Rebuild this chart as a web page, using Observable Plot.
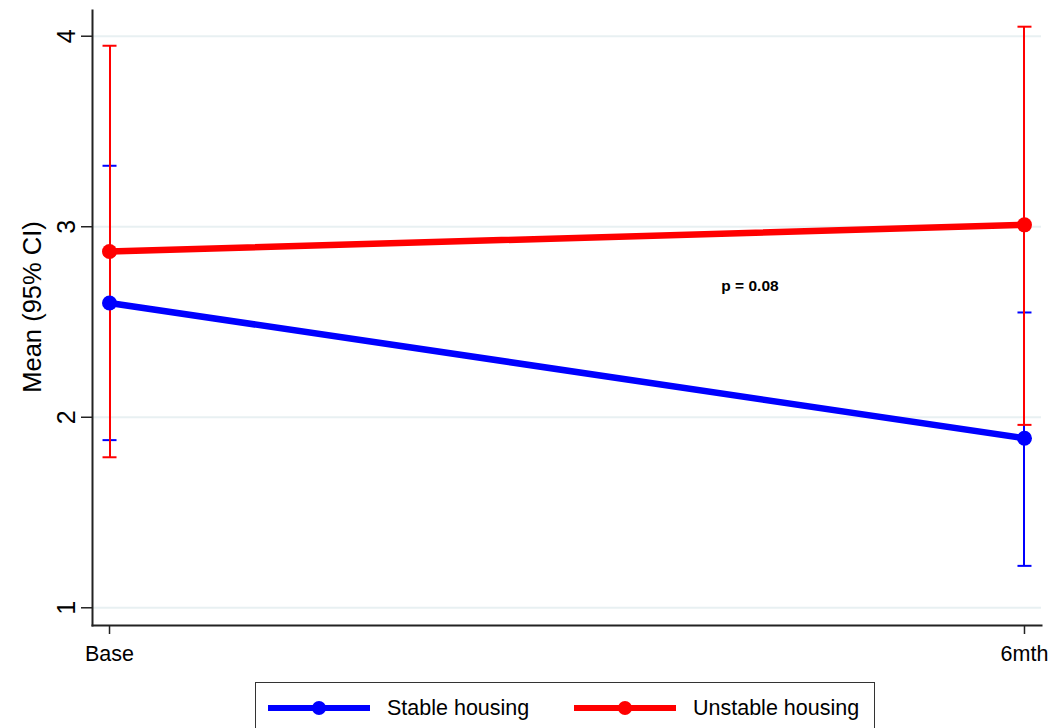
<!DOCTYPE html>
<html>
<head>
<meta charset="utf-8">
<script src="https://cdn.jsdelivr.net/npm/d3@7"></script>
<script src="https://cdn.jsdelivr.net/npm/@observablehq/plot@0.6"></script>
<style>
  html, body { margin: 0; padding: 0; background: #fff; }
  body { width: 1057px; height: 728px; overflow: hidden; font-family: "Liberation Sans", Arial, sans-serif; }
  #chart svg { display: block; }
  .legend {
    position: absolute; left: 255px; top: 682px; width: 620px; height: 56px;
    border: 1.5px solid #333; box-sizing: border-box;
  }
  .legend .item { position: absolute; top: 0; height: 50px; display: flex; align-items: center; }
  .legend .label { font-size: 21.5px; color: #000; margin-left: 16px; }
</style>
</head>
<body>
<div id="chart"></div>
<div class="legend" id="legend"></div>
<script>
// Measurement waves on the x axis
const waves = ["Base", "6mth"];
const groups = ["Stable housing", "Unstable housing"];
const groupColors = ["#0000ff", "#ff0000"];

// Mean score and 95% CI by wave
const stableMean = [2.60, 1.89];
const stableLo = [1.88, 1.22];
const stableHi = [3.32, 2.55];
const unstableMean = [2.87, 3.01];
const unstableLo = [1.79, 1.96];
const unstableHi = [3.95, 4.05];

const yTicks = [1, 2, 3, 4];
const pLabel = "p = 0.08";

const rows = [];
waves.forEach((w, i) => {
  rows.push({group: groups[0], x: i, mean: stableMean[i], lo: stableLo[i], hi: stableHi[i]});
});
waves.forEach((w, i) => {
  rows.push({group: groups[1], x: i, mean: unstableMean[i], lo: unstableLo[i], hi: unstableHi[i]});
});
const stable = rows.filter(d => d.group === groups[0]);
const unstable = rows.filter(d => d.group === groups[1]);
const waveIndex = waves.map((w, i) => i);

// Horizontal cap symbol for the CI whiskers (half-width = r)
const capSymbol = {
  draw(context, size) {
    const w = Math.sqrt(size / Math.PI);
    context.moveTo(-w, 0);
    context.lineTo(w, 0);
  }
};

const font = "Liberation Sans, Arial, sans-serif";

const chart = Plot.plot({
  width: 1057,
  height: 672,
  marginLeft: 92,
  marginRight: 16,
  marginTop: 10,
  marginBottom: 47,
  style: {fontFamily: font, background: "#fff", color: "#000"},
  x: {type: "linear", domain: [-0.0186, 1.0186], axis: null},
  y: {type: "linear", domain: [0.907, 4.135], axis: null},
  color: {domain: groups, range: groupColors},
  marks: [
    Plot.gridY(yTicks, {stroke: "#e8f0f2", strokeOpacity: 1, strokeWidth: 2}),
    // Tick marks
    Plot.axisY(yTicks, {tickSize: 11, stroke: "#222", strokeWidth: 1.5, label: null, tickFormat: () => ""}),
    Plot.axisX(waveIndex, {tickSize: 9, stroke: "#222", strokeWidth: 1.5, label: null, tickFormat: () => ""}),
    // Tick labels
    Plot.text(yTicks, {
      y: d => d, text: d => String(d), frameAnchor: "left", dx: -18, rotate: -90,
      textAnchor: "middle", lineAnchor: "bottom", fontSize: 25, fill: "#000"
    }),
    Plot.text(waveIndex, {
      x: d => d, text: i => waves[i], frameAnchor: "bottom", dy: 20,
      textAnchor: "middle", lineAnchor: "top", fontSize: 21.5, fill: "#000"
    }),
    Plot.frame({anchor: "left", stroke: "#222", strokeWidth: 2}),
    Plot.frame({anchor: "bottom", stroke: "#222", strokeWidth: 2}),
    Plot.text(["Mean (95% CI)"], {
      frameAnchor: "left", dx: -60, dy: -11, rotate: -90, textAnchor: "middle",
      fontSize: 25.5, fill: "#000"
    }),
    // Confidence intervals
    ...[stable, unstable].map(d => [
      Plot.ruleX(d, {x: "x", y1: "lo", y2: "hi", stroke: "group", strokeWidth: 2, shapeRendering: "crispEdges"}),
      Plot.dot(d, {x: "x", y: "lo", stroke: "group", strokeWidth: 2, r: 7, symbol: capSymbol}),
      Plot.dot(d, {x: "x", y: "hi", stroke: "group", strokeWidth: 2, r: 7, symbol: capSymbol})
    ]).flat(),
    // Mean trajectories
    Plot.line(stable, {x: "x", y: "mean", stroke: "group", strokeWidth: 6.5}),
    Plot.line(unstable, {x: "x", y: "mean", stroke: "group", strokeWidth: 6.5}),
    Plot.dot(rows, {x: "x", y: "mean", fill: "group", r: 7.5}),
    Plot.text([{x: 0.70, y: 2.69}], {
      x: "x", y: "y", text: () => pLabel, fontSize: 15.5, fontWeight: "bold", fill: "#000"
    })
  ]
});
document.getElementById("chart").appendChild(chart);

// Legend below the plot
const legend = document.getElementById("legend");
const itemLeft = [11, 317];
groups.forEach((g, i) => {
  const item = document.createElement("div");
  item.className = "item";
  item.style.left = itemLeft[i] + "px";
  item.innerHTML =
    `<svg width="104" height="16"><line x1="1" x2="103" y1="8" y2="8" stroke="${groupColors[i]}" stroke-width="6"/>` +
    `<circle cx="52" cy="8" r="7" fill="${groupColors[i]}"/></svg><span class="label">${g}</span>`;
  legend.appendChild(item);
});
</script>
</body>
</html>
